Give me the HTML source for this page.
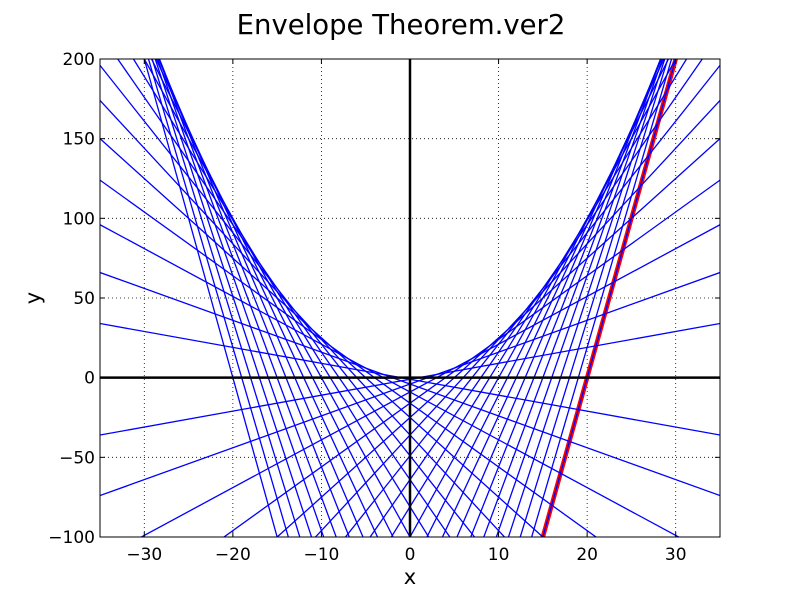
<!DOCTYPE html>
<html><head><meta charset="utf-8"><style>
html,body{margin:0;padding:0;background:#fff;overflow:hidden;width:800px;height:597px;}
svg{display:block;font-family:"DejaVu Sans","Liberation Sans",sans-serif;}
</style></head><body>
<svg id="chart" width="800" height="597" xmlns="http://www.w3.org/2000/svg">
<rect width="800" height="597" fill="#fff"/>
<text x="401" y="34" font-size="27.5" text-anchor="middle">Envelope Theorem.ver2</text>
<g id="grid"></g>
<g id="marks"></g>
<g id="axes"></g>
<text x="410" y="584" font-size="21" text-anchor="middle">x</text>
<text x="40" y="298" font-size="21" text-anchor="middle" transform="rotate(-90 40 298)">y</text>
</svg>
<script>
const xTicks = [-30,-20,-10,0,10,20,30];
const yTicks = [-100,-50,0,50,100,150,200];
const tangentPoints = [-40,-38,-36,-34,-32,-30,-28,-26,-24,-22,-20,-18,-16,-14,-12,-10,-8,-6,-4,-2,0,2,4,6,8,10,12,14,16,18,20,22,24,26,28,30,32,34,36,38,40];
const highlightPoint = [40];
const xDomain = [-35,35], yDomain = [-100,200];
const L=100,R=720,T=59,B=537;
const sx = v => L + (v - xDomain[0])/(xDomain[1]-xDomain[0])*(R-L);
const sy = v => B - (v - yDomain[0])/(yDomain[1]-yDomain[0])*(B-T);
const NS="http://www.w3.org/2000/svg";
function mk(tag, attrs, parent){const e=document.createElementNS(NS,tag);for(const k in attrs)e.setAttribute(k,attrs[k]);parent.appendChild(e);return e;}
const svg=document.getElementById('chart');
const grid=document.getElementById('grid'), marks=document.getElementById('marks'), axes=document.getElementById('axes');
const defs=mk('defs',{},svg);
const cp=mk('clipPath',{id:'clip'},defs);
mk('rect',{x:L,y:T,width:R-L,height:B-T},cp);
marks.setAttribute('clip-path','url(#clip)');
xTicks.forEach(t=>{
  const g=mk('line',{x1:sx(t),x2:sx(t),y1:T,y2:B,stroke:'#000','stroke-width':0.8,'stroke-dasharray':'1,3'},grid);
  
  
  const tk=mk('line',{x1:sx(t),x2:sx(t),y1:B,y2:B-5,stroke:'#000'},axes);
  
  
  mk('line',{x1:sx(t),x2:sx(t),y1:T,y2:T+5,stroke:'#000'},axes);
  const tx=mk('text',{x:sx(t),y:B+23,'font-size':17,'text-anchor':'middle'},axes);
  tx.textContent=t<0?'\u2212'+(-t):String(t);
  
  
});
yTicks.forEach(t=>{
  const g=mk('line',{x1:L,x2:R,y1:sy(t),y2:sy(t),stroke:'#000','stroke-width':0.8,'stroke-dasharray':'1,3'},grid);
  
  
  const tk=mk('line',{x1:L,x2:L+5,y1:sy(t),y2:sy(t),stroke:'#000'},axes);
  
  
  mk('line',{x1:R,x2:R-5,y1:sy(t),y2:sy(t),stroke:'#000'},axes);
  const tx=mk('text',{x:L-5,y:sy(t)+6,'font-size':17,'text-anchor':'end'},axes);
  tx.textContent=t<0?'\u2212'+(-t):String(t);
  
  
});
function tangent(a,color,w,name){
  const f=x=>a*x/2-a*a/4;
  const l=mk('line',{x1:sx(xDomain[0]),y1:sy(f(xDomain[0])),x2:sx(xDomain[1]),y2:sy(f(xDomain[1])),stroke:color,'stroke-width':w},marks);
  
  
}
highlightPoint.forEach(a=>tangent(a,'#ff0000',4.5,'highlight-tangent-line'));
tangentPoints.forEach(a=>tangent(a,'#0000ff',1.3,'tangent-line'));
const ax1=mk('line',{x1:L,x2:R,y1:sy(0),y2:sy(0),stroke:'#000','stroke-width':2.5},axes);


const ax2=mk('line',{x1:sx(0),x2:sx(0),y1:T,y2:B,stroke:'#000','stroke-width':2.5},axes);


const fr=mk('rect',{x:L,y:T,width:R-L,height:B-T,fill:'none',stroke:'#000','stroke-width':1},axes);


</script>
</body></html>
